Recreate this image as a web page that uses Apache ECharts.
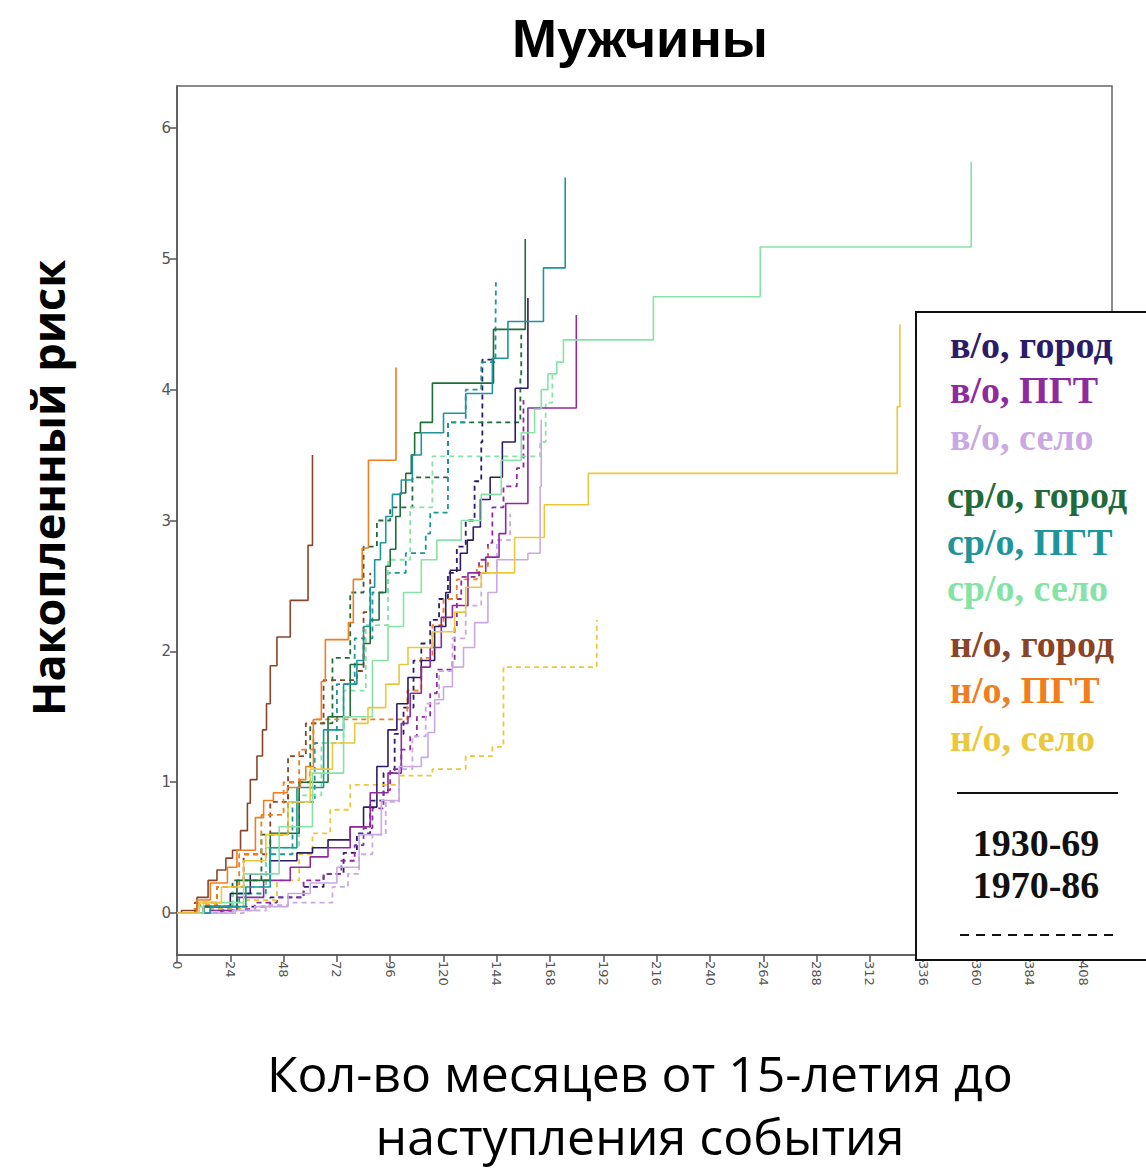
<!DOCTYPE html>
<html>
<head>
<meta charset="utf-8">
<script src="https://cdn.jsdelivr.net/npm/echarts@6/dist/echarts.min.js"></script>
<style>
html,body{margin:0;padding:0;background:#fff;}
#chart{width:1146px;height:1169px;}
</style>
</head>
<body>
<div id="chart"></div>
<script>
// Tick labels
const xTicks = [0,24,48,72,96,120,144,168,192,216,240,264,288,312,336,360,384,408];
const yTicks = [0,1,2,3,4,5,6];

// Group names (legend) and colours
const groupNames = ['в/о, город','в/о, ПГТ','в/о, село','ср/о, город','ср/о, ПГТ','ср/о, село','н/о, город','н/о, ПГТ','н/о, село'];
const groupColors = ['#2d1b69','#8e2a9e','#c9a9e3','#1f6b3a','#1d9599','#86e3a6','#8a4528','#f07d1e','#ebc83a'];
const cohorts = ['1930-69','1970-86'];

// Cumulative hazard, [month, value] — cohort 1930-69 (solid)
const vo_gorod_1930 = [[0,0],[12,0.05],[24,0.15],[33,0.3],[42,0.4],[54,0.46],[61,0.5],[68,0.56],[78,0.66],[84,0.81],[90,1.12],[95,1.4],[99,1.6],[104,1.8],[110,1.93],[116,2.19],[121,2.45],[123,2.62],[127.6,2.75],[130.7,2.85],[133.4,2.95],[136.6,3.16],[141,3.33],[146.5,3.6],[152.3,4.01],[158,4.7]];
const vo_pgt_1930 = [[0,0],[15,0.02],[27,0.12],[39,0.25],[51,0.35],[60,0.43],[68,0.5],[78,0.66],[87,0.92],[95,1.07],[101,1.45],[104,1.5],[105,1.68],[110,1.88],[114,2.03],[119,2.26],[124,2.35],[131,2.6],[139,2.72],[145,2.9],[148,3.13],[158,3.86],[179.8,4.57]];
const vo_selo_1930 = [[0,0],[25,0.02],[35,0.05],[50,0.15],[60,0.23],[72,0.35],[82,0.6],[92,0.86],[100,1.12],[110,1.19],[113,1.38],[116,1.63],[120,1.73],[124,1.88],[129,2.03],[134,2.22],[140,2.45],[144,2.7],[158,2.75],[163.5,3.26],[164,3.77]];
const sr_gorod_1930 = [[0,0],[12,0.05],[27,0.25],[42,0.61],[55,1.0],[68,1.5],[78,1.9],[84,2.06],[87,2.24],[91,2.45],[94,2.65],[96,2.78],[98.5,3.03],[100.5,3.21],[103,3.36],[105.5,3.5],[107,3.67],[109.6,3.75],[115,4.05],[142.5,4.46],[156.8,5.15]];
const sr_pgt_1930 = [[0,0],[15,0.05],[31,0.2],[42,0.5],[54,0.96],[66,1.4],[75,1.75],[81,1.93],[84,2.19],[87,2.49],[89,2.7],[91.6,2.83],[94,3.03],[97,3.2],[101,3.31],[106,3.5],[110,3.67],[120,3.82],[130,3.97],[142,4.24],[149,4.52],[165,4.93],[174.8,5.62]];
const sr_selo_1930 = [[0,0],[12,0.08],[30,0.3],[46,0.66],[61,1.07],[75,1.5],[88,1.93],[95,2.19],[102,2.45],[110,2.7],[117,2.85],[128,3.0],[137,3.2],[146,3.46],[155,3.67],[161,3.85],[164,4.0],[167,4.12],[171,4.21],[174,4.38],[214.5,4.71],[262.6,5.09],[357.6,5.74]];
const no_gorod_1930 = [[0,0],[2,0.02],[9,0.12],[14,0.25],[18,0.33],[22,0.42],[25,0.48],[28.6,0.63],[31.7,0.84],[33,1.02],[36,1.2],[38.5,1.4],[40.3,1.6],[42,1.89],[45,2.11],[51,2.39],[59,2.81],[61,3.5]];
const no_pgt_1930 = [[0,0],[9,0.1],[15,0.23],[22.7,0.35],[27,0.48],[35.3,0.73],[39,0.86],[43.4,0.92],[49.7,0.96],[55.5,1.02],[58,1.12],[61.4,1.48],[65,1.77],[66.8,2.09],[77.2,2.22],[79.4,2.55],[83.4,2.79],[86.2,3.46],[98.6,4.17]];
const no_selo_1930 = [[0,0],[10,0.08],[20,0.2],[30,0.4],[40,0.6],[50,0.85],[60,1.1],[70,1.3],[80,1.45],[86,1.57],[94,1.75],[100,1.9],[104,2.03],[115,2.15],[125,2.3],[130,2.49],[137,2.6],[152,2.87],[165.4,3.12],[185.2,3.36],[324.3,3.87],[325.5,4.5]];

// Cohort 1970-86 (dashed)
const vo_gorod_1970 = [[0,0],[20,0.02],[27,0.05],[42,0.12],[57,0.2],[66,0.3],[75,0.46],[81,0.61],[87,0.86],[93,1.07],[98,1.37],[102,1.57],[106.5,1.93],[110,2.06],[114,2.24],[118,2.4],[122,2.6],[126,2.8],[130,3.0],[134,3.3],[137,3.6],[137.5,4.23],[142.5,4.23]];
const vo_pgt_1970 = [[0,0],[20,0.03],[35,0.08],[45,0.12],[57,0.25],[66,0.3],[74,0.4],[80,0.52],[84,0.65],[88,0.8],[93,0.94],[96,1.1],[101,1.25],[105,1.35],[108,1.5],[114,1.68],[117,1.86],[124,1.93],[125,2.19],[126,2.4],[128,2.57],[136,2.7],[140,2.83],[142,3.1],[147,3.26],[153,3.4],[156,3.92]];
const vo_selo_1970 = [[0,0],[30,0.02],[40,0.06],[50,0.08],[70,0.2],[77,0.3],[82,0.45],[88,0.6],[94,0.85],[100,1.1],[106,1.35],[112,1.6],[118,1.85],[124,2.1],[130,2.35],[137,2.6],[144,2.85],[150,3.05]];
const sr_gorod_1970 = [[0,0],[12,0.05],[25,0.25],[38,0.6],[50,1.0],[60,1.45],[70,1.95],[78,2.45],[84,2.8],[90,3.0],[96,3.1],[106,3.33],[122,3.75],[154.6,4.1],[155,4.42]];
const sr_pgt_1970 = [[0,0],[15,0.03],[28,0.15],[40,0.45],[52,0.85],[62,1.3],[72,1.75],[80,2.1],[88,2.45],[95,2.6],[103,2.75],[112,2.9],[114,3.06],[122,3.75],[130,4.0],[137,4.21],[143.4,4.46],[143.6,4.82]];
const sr_selo_1970 = [[0,0],[10,0.05],[25,0.2],[40,0.5],[55,0.9],[65,1.3],[75,1.7],[85,2.2],[95,2.7],[105,3.1],[115,3.49],[163.5,3.6],[166,3.9],[169,4.13]];
const no_gorod_1970 = [[0,0],[8,0.08],[18,0.2],[30,0.45],[42,0.85],[50,1.2],[58,1.45],[66,1.78],[81,1.85],[84,2.3],[87,2.6]];
const no_pgt_1970 = [[0,0],[8,0.06],[18,0.2],[28,0.45],[38,0.75],[48,1.0],[55,1.25],[61.4,1.48],[103.7,1.7],[110,1.95],[115,2.2],[120,2.4],[126,2.55],[135,2.65],[140,2.8]];
const no_selo_1970 = [[0,0],[15,0.03],[30,0.1],[45,0.25],[55,0.45],[61,0.61],[69,0.79],[78,0.98],[100,1.05],[115,1.1],[130,1.2],[142,1.27],[147,1.88],[189,2.24]];

const solidData = [vo_gorod_1930, vo_pgt_1930, vo_selo_1930, sr_gorod_1930, sr_pgt_1930, sr_selo_1930, no_gorod_1930, no_pgt_1930, no_selo_1930];
const dashedData = [vo_gorod_1970, vo_pgt_1970, vo_selo_1970, sr_gorod_1970, sr_pgt_1970, sr_selo_1970, no_gorod_1970, no_pgt_1970, no_selo_1970];

const series = [];
groupNames.forEach((g, i) => {
  series.push({
    name: g + ' ' + cohorts[0], type: 'line', step: 'end', data: solidData[i],
    showSymbol: false, animation: false, z: 3,
    lineStyle: { color: groupColors[i], width: 1.6, type: 'solid' }
  });
  series.push({
    name: g + ' ' + cohorts[1], type: 'line', step: 'end', data: dashedData[i],
    showSymbol: false, animation: false, z: 2,
    lineStyle: { color: groupColors[i], width: 1.8, type: [5, 4] }
  });
});

// Legend as real text
const legendY = [345, 390, 437, 495, 542, 588, 644, 690, 738];
const legendX = [950, 950, 950, 947, 947, 947, 950, 950, 950];
const legendFont = 'bold 38px "Liberation Serif", serif';
const graphic = [
  { type: 'text', style: { x: 640, y: 38, text: 'Мужчины', textAlign: 'center', textVerticalAlign: 'middle', font: 'bold 54px "Liberation Sans", sans-serif', fill: '#000' } },
  { type: 'text', rotation: Math.PI / 2, x: 47, y: 488, style: { x: 0, y: 0, text: 'Накопленный риск', textAlign: 'center', textVerticalAlign: 'middle', font: 'bold 45px "Open Sans", sans-serif', fill: '#000' } },
  { type: 'text', style: { x: 640, y: 1104, text: 'Кол-во месяцев от 15-летия до\nнаступления события', textAlign: 'center', textVerticalAlign: 'middle', font: '50px "Open Sans", sans-serif', lineHeight: 63, fill: '#000' } },
  { type: 'rect', z: 10, shape: { x: 916, y: 312, width: 250, height: 648 }, style: { fill: '#fff', stroke: '#111', lineWidth: 2 } }
];
groupNames.forEach((g, i) => {
  graphic.push({ type: 'text', z: 11, style: { x: legendX[i], y: legendY[i], text: g, textVerticalAlign: 'middle', font: legendFont, fill: groupColors[i] } });
});
graphic.push({ type: 'line', z: 11, shape: { x1: 957, y1: 793, x2: 1118, y2: 793 }, style: { stroke: '#111', lineWidth: 2 } });
graphic.push({ type: 'text', z: 11, style: { x: 1036, y: 843, text: cohorts[0], textAlign: 'center', textVerticalAlign: 'middle', font: legendFont, fill: '#111' } });
graphic.push({ type: 'text', z: 11, style: { x: 1036, y: 885, text: cohorts[1], textAlign: 'center', textVerticalAlign: 'middle', font: legendFont, fill: '#111' } });
graphic.push({ type: 'line', z: 11, shape: { x1: 960, y1: 935, x2: 1114, y2: 935 }, style: { stroke: '#111', lineWidth: 2, lineDash: [9, 7] } });

const chart = echarts.init(document.getElementById('chart'), null, { renderer: 'svg' });
chart.setOption({
  backgroundColor: '#fff',
  animation: false,
  grid: { left: 177, top: 86, right: 34, bottom: 214, show: true, borderColor: '#666', borderWidth: 1.5, backgroundColor: 'transparent' },
  xAxis: {
    type: 'value', min: 0, max: 421,
    axisLine: { show: true, onZero: false, lineStyle: { color: '#555', width: 1.5 } },
    axisTick: { show: true, length: 7, customValues: xTicks, lineStyle: { color: '#555', width: 1.5 } },
    axisLabel: { customValues: xTicks, rotate: -90, color: '#555', fontSize: 13, fontFamily: 'DejaVu Sans', margin: 6 },
    splitLine: { show: false }
  },
  yAxis: {
    type: 'value', min: -0.32, max: 6.32,
    axisLine: { show: true, onZero: false, lineStyle: { color: '#555', width: 1.5 } },
    axisTick: { show: true, length: 7, customValues: yTicks, lineStyle: { color: '#555', width: 1.5 } },
    axisLabel: { customValues: yTicks, color: '#555', fontSize: 15, fontFamily: 'DejaVu Sans', margin: 6 },
    splitLine: { show: false }
  },
  series: series,
  graphic: graphic
});
</script>
</body>
</html>
